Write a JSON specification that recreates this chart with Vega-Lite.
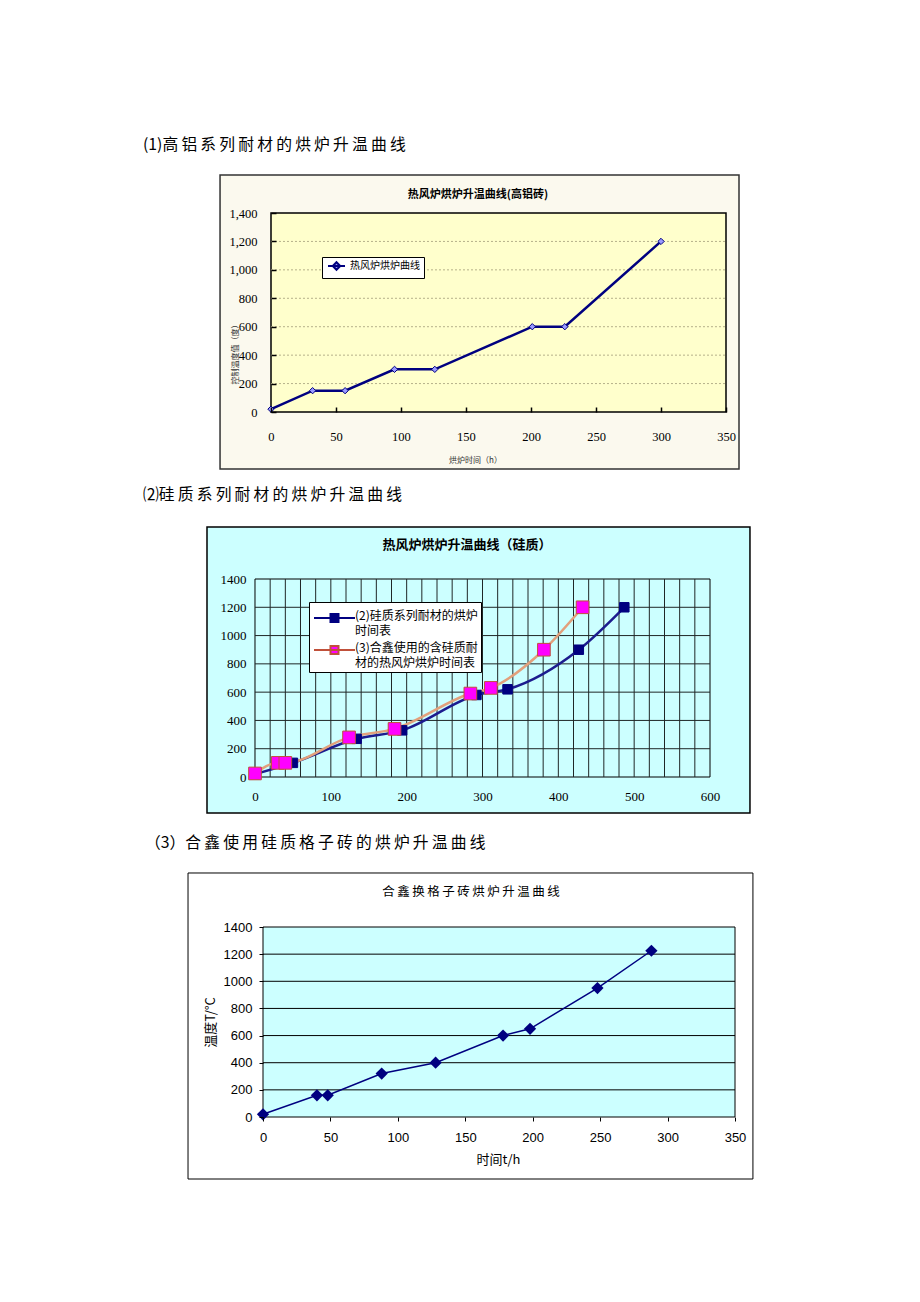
{
  "$schema": "https://vega.github.io/schema/vega-lite/v6.json",
  "padding": 0,
  "background": "white",
  "spacing": 0,
  "bounds": "flush",
  "resolve": {"scale": {"fill": "independent", "stroke": "independent", "color": "independent", "size": "independent"}, "legend": {"fill": "independent", "stroke": "independent"}},
  "config": {
    "view": {"stroke": null},
    "style": {"guide-label": {"lineHeight": 14.5}},
    "axis": {"grid": false, "domain": false, "labelFlush": false, "labelOverlap": false, "labelColor": "black", "titleColor": "black", "titleFontWeight": "normal", "tickColor": "black"},
    "title": {"font": "Noto Sans CJK SC", "color": "black", "fontWeight": "normal"}
  },
  "vconcat": [
    {"width": 10, "height": 213, "data": {"values": [{}]}, "mark": {"type": "rect", "fill": "white", "opacity": 0},
     "title": {"text": "(1)高\u2009铝\u2009系\u2009列\u2009耐\u2009材\u2009的\u2009烘\u2009炉\u2009升\u2009温\u2009曲\u2009线", "anchor": "start", "frame": "group", "dx": 143, "offset": -160.8, "baseline": "middle", "fontSize": 15.8, "font": "Noto Sans CJK SC", "fontWeight": "normal", "color": "black"}},
    {
      "width": 726, "height": 199,
      "title": {"text": "热风炉烘炉升温曲线(高铝砖)", "anchor": "middle", "dx": 115, "offset": -32, "baseline": "middle", "fontSize": 11, "fontWeight": "bold", "font": "Noto Sans CJK SC", "color": "black"},
      "data": {"values": [
        {"series": "热风炉烘炉曲线", "time": 0, "temp": 20},
        {"series": "热风炉烘炉曲线", "time": 32, "temp": 150},
        {"series": "热风炉烘炉曲线", "time": 57, "temp": 150},
        {"series": "热风炉烘炉曲线", "time": 95, "temp": 300},
        {"series": "热风炉烘炉曲线", "time": 126, "temp": 300},
        {"series": "热风炉烘炉曲线", "time": 201, "temp": 600},
        {"series": "热风炉烘炉曲线", "time": 226, "temp": 600},
        {"series": "热风炉烘炉曲线", "time": 300, "temp": 1200}
      ]},
      "layer": [
        {"data": {"values": [{}]}, "mark": {"type": "rect", "fill": "#FBF9EE", "stroke": "#333333", "strokeWidth": 1.5},
         "encoding": {
           "x": {"datum": -39.2, "type": "quantitative", "scale": {"domain": [-208.4615, 350], "nice": false, "zero": false},
                 "axis": {"zindex": 1, "values": [0, 50, 100, 150, 200, 250, 300, 350], "labelOverlap": false, "tickSize": -5, "tickWidth": 1.5, "labelPadding": 23, "labelFont": "Liberation Serif", "labelFontSize": 12.5,
                          "title": "烘炉时间（h）", "titleFont": "Noto Sans CJK SC", "titleFontSize": 8, "titleColor": "#333333", "titleX": 475, "titleY": 48, "titleBaseline": "middle", "titleAlign": "center"}},
           "x2": {"datum": 360},
           "y": {"datum": -401, "type": "quantitative", "scale": {"domain": [0, 1400], "nice": false, "zero": false},
                 "axis": {"zindex": 1, "offset": -271, "values": [0, 200, 400, 600, 800, 1000, 1200, 1400], "labelOverlap": false, "tickCount": 8, "tickSize": -5, "tickWidth": 1.5, "labelPadding": 19, "labelFont": "Liberation Serif", "labelFontSize": 12.5,
                          "title": "控制温度值（度）", "titleFont": "Noto Sans CJK SC", "titleFontSize": 8, "titleColor": "#333333", "titleX": -32, "titleY": 139, "titleAngle": -90, "titleBaseline": "bottom", "titleAlign": "center"}},
           "y2": {"datum": 1667}}},
        {"data": {"values": [{}]}, "mark": {"type": "rect", "fill": "#FFFFCC", "stroke": "black", "strokeWidth": 1.5},
         "encoding": {"x": {"datum": 0, "type": "quantitative"}, "x2": {"datum": 350}, "y": {"datum": 0, "type": "quantitative"}, "y2": {"datum": 1400}}},
        {"data": {"values": [{"v": 200}, {"v": 400}, {"v": 600}, {"v": 800}, {"v": 1000}, {"v": 1200}]},
         "mark": {"type": "rule", "stroke": "#B5B08A", "strokeDash": [2, 2], "strokeWidth": 1},
         "encoding": {"y": {"field": "v", "type": "quantitative"}, "x": {"datum": 0, "type": "quantitative"}, "x2": {"datum": 350}}},
        {"mark": {"type": "line", "stroke": "#000080", "strokeWidth": 2.5},
         "encoding": {"x": {"field": "time", "type": "quantitative"}, "y": {"field": "temp", "type": "quantitative"}}},
        {"mark": {"type": "point", "shape": "diamond", "filled": true, "size": 40, "opacity": 1},
         "encoding": {
           "x": {"field": "time", "type": "quantitative"},
           "y": {"field": "temp", "type": "quantitative"},
           "fill": {"field": "series", "type": "nominal", "scale": {"range": ["#9999FF"]},
                    "legend": {"title": null, "orient": "none", "legendX": 322, "legendY": 44, "symbolType": "M-1,0L4.67,0M1.83,-1.25L3.08,0L1.83,1.25L0.58,0Z", "symbolSize": 36, "symbolStrokeWidth": 2, "labelOffset": 14, "labelFont": "Noto Sans CJK SC", "labelFontSize": 10, "labelColor": "black", "fillColor": "white", "strokeColor": "black", "padding": 4}},
           "stroke": {"field": "series", "type": "nominal", "scale": {"range": ["#000080"]},
                    "legend": {"title": null, "orient": "none", "legendX": 322, "legendY": 44, "symbolType": "M-1,0L4.67,0M1.83,-1.25L3.08,0L1.83,1.25L0.58,0Z", "symbolSize": 36, "symbolStrokeWidth": 2, "labelOffset": 14, "labelFont": "Noto Sans CJK SC", "labelFontSize": 10, "labelColor": "black", "fillColor": "white", "strokeColor": "black", "padding": 4}},
           "strokeWidth": {"value": 1}}}
      ]
    },
    {"width": 10, "height": 167, "data": {"values": [{}]}, "mark": {"type": "rect", "fill": "white", "opacity": 0},
     "title": {"text": "⑵硅\u2009质\u2009系\u2009列\u2009耐\u2009材\u2009的\u2009烘\u2009炉\u2009升\u2009温\u2009曲\u2009线", "anchor": "start", "frame": "group", "dx": 143, "offset": -98.8, "baseline": "middle", "fontSize": 15.8, "font": "Noto Sans CJK SC", "fontWeight": "normal", "color": "black"}},
    {
      "width": 710, "height": 198,
      "title": {"text": "热风炉烘炉升温曲线（硅质）", "anchor": "middle", "dx": 112, "offset": -32, "baseline": "middle", "fontSize": 13, "fontWeight": "bold", "font": "Noto Sans CJK SC", "color": "black"},
      "data": {"values": [
        {"series": "(2)硅质系列耐材的烘炉时间表", "time": 0, "temp": 20},
        {"series": "(2)硅质系列耐材的烘炉时间表", "time": 50, "temp": 100},
        {"series": "(2)硅质系列耐材的烘炉时间表", "time": 134, "temp": 270},
        {"series": "(2)硅质系列耐材的烘炉时间表", "time": 194, "temp": 330},
        {"series": "(2)硅质系列耐材的烘炉时间表", "time": 292, "temp": 580},
        {"series": "(2)硅质系列耐材的烘炉时间表", "time": 333, "temp": 620},
        {"series": "(2)硅质系列耐材的烘炉时间表", "time": 427, "temp": 900},
        {"series": "(2)硅质系列耐材的烘炉时间表", "time": 487, "temp": 1200},
        {"series": "(3)合鑫使用的含硅质耐材的热风炉烘炉时间表", "time": 0, "temp": 25},
        {"series": "(3)合鑫使用的含硅质耐材的热风炉烘炉时间表", "time": 30, "temp": 100},
        {"series": "(3)合鑫使用的含硅质耐材的热风炉烘炉时间表", "time": 40, "temp": 100},
        {"series": "(3)合鑫使用的含硅质耐材的热风炉烘炉时间表", "time": 124, "temp": 280},
        {"series": "(3)合鑫使用的含硅质耐材的热风炉烘炉时间表", "time": 184, "temp": 340},
        {"series": "(3)合鑫使用的含硅质耐材的热风炉烘炉时间表", "time": 284, "temp": 590},
        {"series": "(3)合鑫使用的含硅质耐材的热风炉烘炉时间表", "time": 311, "temp": 630},
        {"series": "(3)合鑫使用的含硅质耐材的热风炉烘炉时间表", "time": 381, "temp": 900},
        {"series": "(3)合鑫使用的含硅质耐材的热风炉烘炉时间表", "time": 432, "temp": 1200}
      ]},
      "layer": [
        {"data": {"values": [{}]}, "mark": {"type": "rect", "fill": "#CCFFFF", "stroke": "black", "strokeWidth": 1.5},
         "encoding": {
           "x": {"datum": -63.3, "type": "quantitative", "scale": {"domain": [-336.2637, 600], "nice": false, "zero": false},
                 "axis": {"zindex": 1, "values": [0, 100, 200, 300, 400, 500, 600], "labelOverlap": false, "ticks": false, "labelPadding": 13, "labelFont": "Liberation Serif", "labelFontSize": 13, "title": null}},
           "x2": {"datum": 652.7},
           "y": {"datum": -254.5, "type": "quantitative", "scale": {"domain": [0, 1400], "nice": false, "zero": false},
                 "axis": {"zindex": 1, "offset": -255, "values": [0, 200, 400, 600, 800, 1000, 1200, 1400], "labelOverlap": false, "tickCount": 8, "format": "d", "ticks": false, "labelPadding": 9, "labelFont": "Liberation Serif", "labelFontSize": 13, "title": null}},
           "y2": {"datum": 1767.7}}},
        {"data": {"values": [{}]}, "mark": {"type": "rect", "fill": "#CCFFFF", "stroke": "black", "strokeWidth": 1},
         "encoding": {"x": {"datum": 0, "type": "quantitative"}, "x2": {"datum": 600}, "y": {"datum": 0, "type": "quantitative"}, "y2": {"datum": 1400}}},
        {"data": {"values": [{"v": 20}, {"v": 40}, {"v": 60}, {"v": 80}, {"v": 100}, {"v": 120}, {"v": 140}, {"v": 160}, {"v": 180}, {"v": 200}, {"v": 220}, {"v": 240}, {"v": 260}, {"v": 280}, {"v": 300}, {"v": 320}, {"v": 340}, {"v": 360}, {"v": 380}, {"v": 400}, {"v": 420}, {"v": 440}, {"v": 460}, {"v": 480}, {"v": 500}, {"v": 520}, {"v": 540}, {"v": 560}, {"v": 580}]},
         "mark": {"type": "rule", "stroke": "#1F2626", "strokeWidth": 1},
         "encoding": {"x": {"field": "v", "type": "quantitative"}, "y": {"datum": 0, "type": "quantitative"}, "y2": {"datum": 1400}}},
        {"data": {"values": [{"v": 200}, {"v": 400}, {"v": 600}, {"v": 800}, {"v": 1000}, {"v": 1200}]},
         "mark": {"type": "rule", "stroke": "#1F2626", "strokeWidth": 1},
         "encoding": {"y": {"field": "v", "type": "quantitative"}, "x": {"datum": 0, "type": "quantitative"}, "x2": {"datum": 600}}},
        {"transform": [{"filter": {"field": "series", "equal": "(2)硅质系列耐材的烘炉时间表"}}],
         "mark": {"type": "line", "strokeWidth": 2.5, "interpolate": "monotone", "stroke": "#1C1C8E"},
         "encoding": {"x": {"field": "time", "type": "quantitative"}, "y": {"field": "temp", "type": "quantitative"}}},
        {"transform": [{"filter": {"field": "series", "equal": "(3)合鑫使用的含硅质耐材的热风炉烘炉时间表"}}],
         "mark": {"type": "line", "strokeWidth": 2.5, "interpolate": "monotone", "stroke": "#E2A07C"},
         "encoding": {"x": {"field": "time", "type": "quantitative"}, "y": {"field": "temp", "type": "quantitative"}}},
        {"transform": [{"filter": {"field": "series", "equal": "(2)硅质系列耐材的烘炉时间表"}}],
         "mark": {"type": "point", "shape": "square", "filled": true, "opacity": 1, "size": 90},
         "encoding": {
           "x": {"field": "time", "type": "quantitative"},
           "y": {"field": "temp", "type": "quantitative"},
           "fill": {"field": "series", "type": "nominal", "scale": {"domain": ["(2)硅质系列耐材的烘炉时间表", "(3)合鑫使用的含硅质耐材的热风炉烘炉时间表"], "range": ["#000080", "#FF00FF"]},
                    "legend": {"title": null, "orient": "none", "legendX": 309, "legendY": 23, "symbolType": "M-1,1.75L9.25,1.75M3.125,0.75L5.125,0.75L5.125,2.75L3.125,2.75Z", "symbolSize": 64, "symbolStrokeWidth": 2, "labelOffset": 31, "labelBaseline": "top", "labelFont": "Noto Sans CJK SC", "labelFontSize": 12, "labelColor": "black", "labelLimit": 300, "rowPadding": -5, "fillColor": "white", "strokeColor": "black", "padding": 3,
                               "labelExpr": "datum.label == '(2)硅质系列耐材的烘炉时间表' ? ['(2)硅质系列耐材的烘炉', '时间表'] : ['(3)合鑫使用的含硅质耐', '材的热风炉烘炉时间表']"}},
           "stroke": {"field": "series", "type": "nominal", "scale": {"domain": ["(2)硅质系列耐材的烘炉时间表", "(3)合鑫使用的含硅质耐材的热风炉烘炉时间表"], "range": ["#000080", "#C0503A"]},
                    "legend": {"title": null, "orient": "none", "legendX": 309, "legendY": 23, "symbolType": "M-1,1.75L9.25,1.75M3.125,0.75L5.125,0.75L5.125,2.75L3.125,2.75Z", "symbolSize": 64, "symbolStrokeWidth": 2, "labelOffset": 31, "labelBaseline": "top", "labelFont": "Noto Sans CJK SC", "labelFontSize": 12, "labelColor": "black", "labelLimit": 300, "rowPadding": -5, "fillColor": "white", "strokeColor": "black", "padding": 3,
                               "labelExpr": "datum.label == '(2)硅质系列耐材的烘炉时间表' ? ['(2)硅质系列耐材的烘炉', '时间表'] : ['(3)合鑫使用的含硅质耐', '材的热风炉烘炉时间表']"}},
           "strokeWidth": {"value": 1}}},
        {"transform": [{"filter": {"field": "series", "equal": "(3)合鑫使用的含硅质耐材的热风炉烘炉时间表"}}],
         "mark": {"type": "point", "shape": "square", "filled": true, "opacity": 1, "size": 160},
         "encoding": {
           "x": {"field": "time", "type": "quantitative"},
           "y": {"field": "temp", "type": "quantitative"},
           "fill": {"field": "series", "type": "nominal", "scale": {"domain": ["(2)硅质系列耐材的烘炉时间表", "(3)合鑫使用的含硅质耐材的热风炉烘炉时间表"], "range": ["#000080", "#FF00FF"]},
                    "legend": {"title": null, "orient": "none", "legendX": 309, "legendY": 23, "symbolType": "M-1,1.75L9.25,1.75M3.125,0.75L5.125,0.75L5.125,2.75L3.125,2.75Z", "symbolSize": 64, "symbolStrokeWidth": 2, "labelOffset": 31, "labelBaseline": "top", "labelFont": "Noto Sans CJK SC", "labelFontSize": 12, "labelColor": "black", "labelLimit": 300, "rowPadding": -5, "fillColor": "white", "strokeColor": "black", "padding": 3,
                               "labelExpr": "datum.label == '(2)硅质系列耐材的烘炉时间表' ? ['(2)硅质系列耐材的烘炉', '时间表'] : ['(3)合鑫使用的含硅质耐', '材的热风炉烘炉时间表']"}},
           "stroke": {"field": "series", "type": "nominal", "scale": {"domain": ["(2)硅质系列耐材的烘炉时间表", "(3)合鑫使用的含硅质耐材的热风炉烘炉时间表"], "range": ["#000080", "#C0503A"]},
                    "legend": {"title": null, "orient": "none", "legendX": 309, "legendY": 23, "symbolType": "M-1,1.75L9.25,1.75M3.125,0.75L5.125,0.75L5.125,2.75L3.125,2.75Z", "symbolSize": 64, "symbolStrokeWidth": 2, "labelOffset": 31, "labelBaseline": "top", "labelFont": "Noto Sans CJK SC", "labelFontSize": 12, "labelColor": "black", "labelLimit": 300, "rowPadding": -5, "fillColor": "white", "strokeColor": "black", "padding": 3,
                               "labelExpr": "datum.label == '(2)硅质系列耐材的烘炉时间表' ? ['(2)硅质系列耐材的烘炉', '时间表'] : ['(3)合鑫使用的含硅质耐', '材的热风炉烘炉时间表']"}},
           "strokeWidth": {"value": 1}}}
      ]
    },
    {"width": 10, "height": 150, "data": {"values": [{}]}, "mark": {"type": "rect", "fill": "white", "opacity": 0},
     "title": {"text": "（3）合\u2009鑫\u2009使\u2009用\u2009硅\u2009质\u2009格\u2009子\u2009砖\u2009的\u2009烘\u2009炉\u2009升\u2009温\u2009曲\u2009线", "anchor": "start", "frame": "group", "dx": 145, "offset": -81.8, "baseline": "middle", "fontSize": 15.8, "font": "Noto Sans CJK SC", "fontWeight": "normal", "color": "black"}},
    {
      "width": 735, "height": 190,
      "title": {"text": "合\u2009鑫\u2009换\u2009格\u2009子\u2009砖\u2009烘\u2009炉\u2009升\u2009温\u2009曲\u2009线", "anchor": "middle", "dx": 103.5, "offset": -32, "baseline": "middle", "fontSize": 12.5, "fontWeight": "normal", "font": "Noto Sans CJK SC", "color": "black"},
      "data": {"values": [
        {"time": 0, "temp": 20},
        {"time": 40, "temp": 160},
        {"time": 48, "temp": 160},
        {"time": 88, "temp": 320},
        {"time": 128, "temp": 400},
        {"time": 178, "temp": 600},
        {"time": 198, "temp": 650},
        {"time": 248, "temp": 950},
        {"time": 288, "temp": 1225}
      ]},
      "layer": [
        {"data": {"values": [{}]}, "mark": {"type": "rect", "fill": "white", "stroke": "black", "strokeWidth": 1},
         "encoding": {
           "x": {"datum": -55.6, "type": "quantitative", "scale": {"domain": [-195.0212, 350], "nice": false, "zero": false},
                 "axis": {"zindex": 1, "values": [0, 50, 100, 150, 200, 250, 300, 350], "labelOverlap": false, "tickSize": 4, "labelPadding": 10, "labelFont": "Liberation Sans", "labelFontSize": 13,
                          "title": "时间t/h", "titleFont": "Noto Sans CJK SC", "titleFontSize": 13, "titleX": 498, "titleY": 42, "titleBaseline": "middle", "titleAlign": "center"}},
           "x2": {"datum": 363.3},
           "y": {"datum": -456.9, "type": "quantitative", "scale": {"domain": [0, 1400], "nice": false, "zero": false},
                 "axis": {"zindex": 1, "offset": -263, "values": [0, 200, 400, 600, 800, 1000, 1200, 1400], "labelOverlap": false, "tickCount": 8, "format": "d", "tickSize": 4, "labelPadding": 7, "labelFont": "Liberation Sans", "labelFontSize": 13,
                          "title": "温度T/°C", "titleFont": "Noto Sans CJK SC", "titleFontSize": 13, "titleX": -46, "titleY": 95, "titleAngle": -90, "titleBaseline": "bottom", "titleAlign": "center"}},
           "y2": {"datum": 1798}}},
        {"data": {"values": [{}]}, "mark": {"type": "rect", "fill": "#CCFFFF", "stroke": "black", "strokeWidth": 1},
         "encoding": {"x": {"datum": 0, "type": "quantitative"}, "x2": {"datum": 350}, "y": {"datum": 0, "type": "quantitative"}, "y2": {"datum": 1400}}},
        {"data": {"values": [{"v": 200}, {"v": 400}, {"v": 600}, {"v": 800}, {"v": 1000}, {"v": 1200}]},
         "mark": {"type": "rule", "stroke": "black", "strokeWidth": 1},
         "encoding": {"y": {"field": "v", "type": "quantitative"}, "x": {"datum": 0, "type": "quantitative"}, "x2": {"datum": 350}}},
        {"mark": {"type": "line", "stroke": "#000080", "strokeWidth": 1.5},
         "encoding": {"x": {"field": "time", "type": "quantitative"}, "y": {"field": "temp", "type": "quantitative"}}},
        {"mark": {"type": "point", "shape": "diamond", "filled": true, "size": 150, "opacity": 1, "color": "#000080"},
         "encoding": {"x": {"field": "time", "type": "quantitative"}, "y": {"field": "temp", "type": "quantitative"}}}
      ]
    }
  ]
}
